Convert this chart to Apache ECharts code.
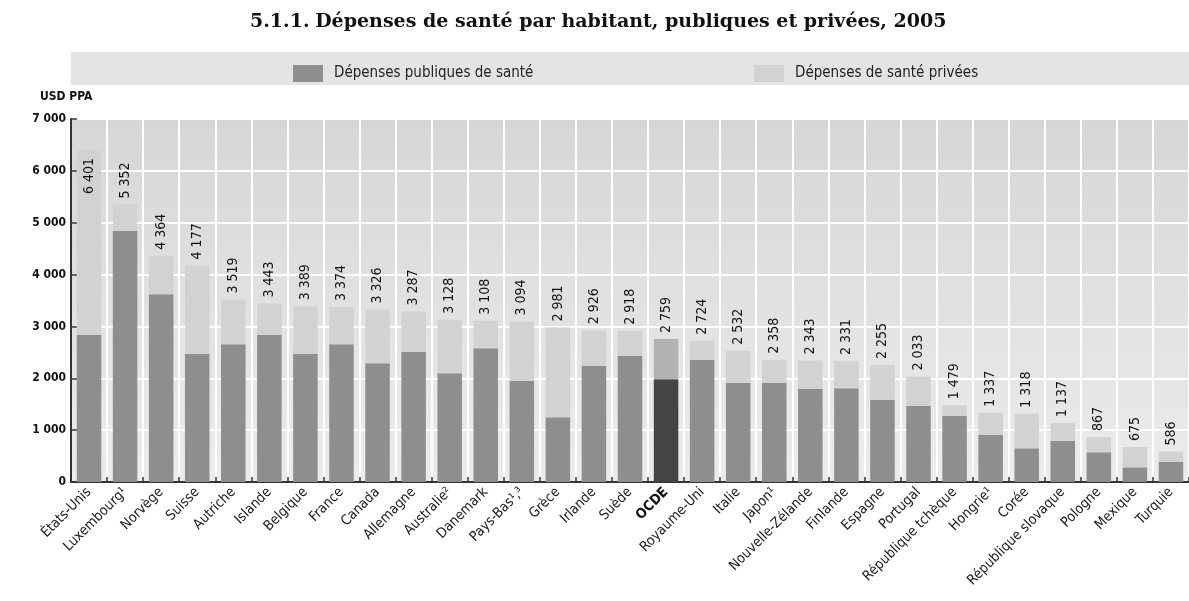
<!DOCTYPE html>
<html>
<head>
<meta charset="utf-8">
<script src="https://cdn.jsdelivr.net/npm/echarts@6/dist/echarts.min.js"></script>
<style>
  html, body { margin: 0; padding: 0; background: #ffffff; }
  #chart { width: 1189px; height: 601px; }
</style>
</head>
<body>
<div id="chart"></div>
<script>
var categories = ['États-Unis', 'Luxembourg¹', 'Norvège', 'Suisse', 'Autriche', 'Islande', 'Belgique', 'France', 'Canada', 'Allemagne', 'Australie²', 'Danemark', 'Pays-Bas¹,³', 'Grèce', 'Irlande', 'Suède', 'OCDE', 'Royaume-Uni', 'Italie', 'Japon¹', 'Nouvelle-Zélande', 'Finlande', 'Espagne', 'Portugal', 'République tchèque', 'Hongrie¹', 'Corée', 'République slovaque', 'Pologne', 'Mexique', 'Turquie'];
var totalSpend = [6401, 5352, 4364, 4177, 3519, 3443, 3389, 3374, 3326, 3287, 3128, 3108, 3094, 2981, 2926, 2918, 2759, 2724, 2532, 2358, 2343, 2331, 2255, 2033, 1479, 1337, 1318, 1137, 867, 675, 586];
var publicSpend = [2835, 4846, 3619, 2468, 2655, 2840, 2468, 2655, 2289, 2507, 2096, 2578, 1948, 1248, 2243, 2430, 1980, 2353, 1915, 1915, 1799, 1807, 1581, 1466, 1278, 906, 650, 796, 573, 283, 386];
var yTicks = [0, 1000, 2000, 3000, 4000, 5000, 6000, 7000];

var seriesNames = ['Dépenses publiques de santé', 'Dépenses de santé privées'];
var COL_PUB = '#8e8e8e', COL_PRIV = '#d2d2d2', COL_PUB_OECD = '#444444', COL_PRIV_OECD = '#b2b2b2';
var NARROW = "'DejaVu Sans Condensed', 'Liberation Sans Narrow', sans-serif";
var SERIF = "'DejaVu Serif', 'Liberation Serif', serif";

function fr(n) { return String(n).replace(/\B(?=(\d{3})+(?!\d))/g, ' '); }

var pubData = publicSpend.map(function (v, i) {
  var d = { value: v };
  if (categories[i] === 'OCDE') d.itemStyle = { color: COL_PUB_OECD };
  return d;
});
var privData = totalSpend.map(function (t, i) {
  var d = { value: t - publicSpend[i] };
  if (categories[i] === 'OCDE') d.itemStyle = { color: COL_PRIV_OECD };
  if (t > 6000) {
    d.label = { position: 'insideTop', distance: 8, align: 'right' };
  }
  return d;
});

var chart = echarts.init(document.getElementById('chart'), null, { renderer: 'canvas' });
chart.setOption({
  animation: false,
  backgroundColor: '#ffffff',
  textStyle: { fontFamily: NARROW },
  title: {
    text: '{a|5.1.1.} {b|Dépenses de santé par habitant, publiques et privées, 2005}',
    left: 245,
    top: 8,
    textStyle: {
      rich: {
        a: { fontFamily: SERIF, fontSize: 19, color: '#111' },
        b: { fontFamily: SERIF, fontSize: 19, fontWeight: 'bold', color: '#111' }
      }
    }
  },
  graphic: [
    { type: 'rect', z: 0, shape: { x: 71, y: 52, width: 1118, height: 33 }, style: { fill: '#e4e4e4' } },
    { type: 'text', z: 5, left: 40, top: 91, style: { text: 'USD PPA', font: "bold 12px 'DejaVu Sans Condensed', sans-serif", fill: '#111' } }
  ],
  legend: [
    { data: [seriesNames[0]], left: 288, top: 60, itemWidth: 30, itemHeight: 17, icon: 'rect',
      textStyle: { fontFamily: NARROW, fontSize: 15, color: '#222', padding: [0, 0, 0, 6] } },
    { data: [seriesNames[1]], left: 749, top: 60, itemWidth: 30, itemHeight: 17, icon: 'rect',
      textStyle: { fontFamily: NARROW, fontSize: 15, color: '#222', padding: [0, 0, 0, 6] } }
  ],
  grid: {
    left: 71, top: 119, width: 1125, height: 363,
    show: true, borderWidth: 0,
    backgroundColor: { type: 'linear', x: 0, y: 0, x2: 0, y2: 1,
      colorStops: [{ offset: 0, color: '#d6d6d6' }, { offset: 1, color: '#ececec' }] }
  },
  xAxis: {
    type: 'category',
    data: categories,
    axisLine: { lineStyle: { color: '#333', width: 2 } },
    axisTick: { show: true, inside: true, length: 5, lineStyle: { color: '#333', width: 1.5 } },
    splitLine: { show: true, lineStyle: { color: '#ffffff', width: 2 } },
    axisLabel: {
      interval: 0, rotate: 45, margin: 8,
      fontFamily: NARROW, fontSize: 14, color: '#222',
      formatter: function (v) { return v === 'OCDE' ? '{b|' + v + '}' : v; },
      rich: { b: { fontFamily: NARROW, fontSize: 14, fontWeight: 'bold', color: '#111' } }
    }
  },
  yAxis: {
    type: 'value',
    min: 0, max: 7000, interval: 1000,
    axisLine: { show: true, lineStyle: { color: '#333', width: 2 } },
    axisTick: { show: true, inside: true, length: 6, lineStyle: { color: '#333', width: 1.5 } },
    splitLine: { show: true, lineStyle: { color: '#ffffff', width: 2 } },
    axisLabel: {
      margin: 5, fontFamily: NARROW, fontSize: 12, fontWeight: 'bold', color: '#111',
      formatter: function (v) { return fr(v); }
    }
  },
  series: [
    {
      name: seriesNames[0], type: 'bar', stack: 'total', barWidth: '68%',
      itemStyle: { color: COL_PUB },
      data: pubData
    },
    {
      name: seriesNames[1], type: 'bar', stack: 'total', barWidth: '68%',
      itemStyle: { color: COL_PRIV },
      label: {
        show: true, position: 'top', distance: 6, rotate: 90,
        align: 'left', verticalAlign: 'middle',
        fontFamily: NARROW, fontSize: 14, color: '#111',
        formatter: function (p) { return fr(totalSpend[p.dataIndex]); }
      },
      data: privData
    }
  ]
});
</script>
</body>
</html>
